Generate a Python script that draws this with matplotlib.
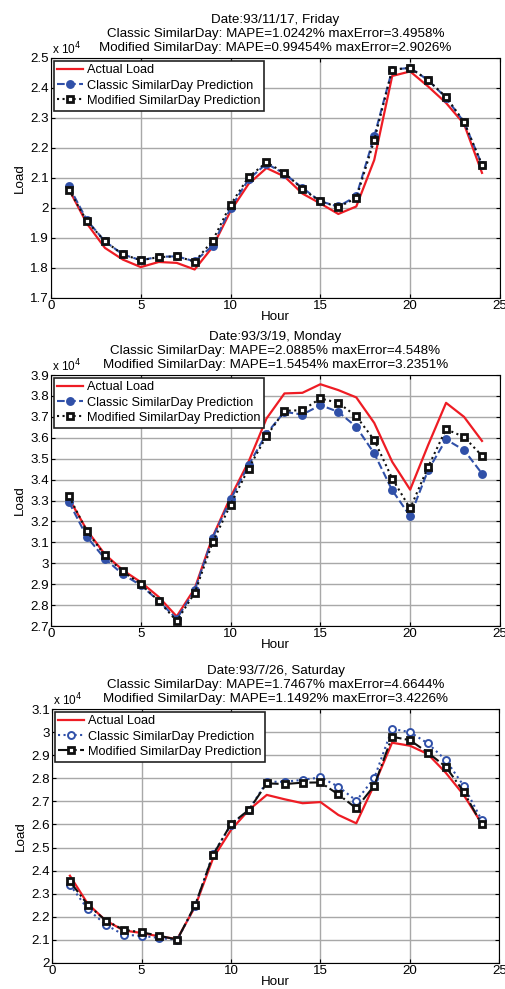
import numpy as np
import matplotlib
matplotlib.use('Agg')
import matplotlib.pyplot as plt
from matplotlib.ticker import FuncFormatter, MultipleLocator

plt.rcParams['font.family'] = ['Liberation Sans', 'DejaVu Sans']

hours = np.arange(1, 25)

# Panel 1 - 93/11/17, Friday (load in x10^4)
actual1 = [2.062, 1.948, 1.867, 1.828, 1.803, 1.820, 1.817, 1.795, 1.870, 1.990, 2.080, 2.133,
           2.105, 2.048, 2.015, 1.980, 2.005, 2.160, 2.440, 2.455, 2.405, 2.350, 2.280, 2.117]
classic1 = [2.072, 1.959, 1.889, 1.845, 1.826, 1.837, 1.839, 1.822, 1.874, 2.000, 2.095, 2.148,
            2.114, 2.067, 2.022, 2.005, 2.039, 2.239, 2.461, 2.467, 2.426, 2.367, 2.286, 2.144]
modified1 = [2.061, 1.956, 1.889, 1.845, 1.826, 1.836, 1.839, 1.821, 1.891, 2.011, 2.103, 2.152,
             2.117, 2.063, 2.022, 2.003, 2.033, 2.226, 2.461, 2.467, 2.426, 2.370, 2.287, 2.144]

# Panel 2 - 93/3/19, Monday
actual2 = [3.310, 3.158, 3.043, 2.967, 2.910, 2.839, 2.746, 2.879, 3.126, 3.317, 3.485, 3.692,
           3.812, 3.815, 3.856, 3.828, 3.793, 3.671, 3.485, 3.352, 3.565, 3.767, 3.700, 3.585]
classic2 = [3.293, 3.126, 3.022, 2.947, 2.895, 2.820, 2.734, 2.871, 3.123, 3.305, 3.469, 3.620,
            3.724, 3.711, 3.756, 3.724, 3.652, 3.525, 3.349, 3.225, 3.445, 3.592, 3.541, 3.429]
modified2 = [3.321, 3.153, 3.038, 2.962, 2.900, 2.820, 2.724, 2.858, 3.100, 3.281, 3.453, 3.608,
             3.729, 3.732, 3.788, 3.767, 3.703, 3.589, 3.405, 3.262, 3.461, 3.641, 3.604, 3.514]

# Panel 3 - 93/7/26, Saturday
actual3 = [2.378, 2.256, 2.184, 2.141, 2.130, 2.115, 2.104, 2.245, 2.454, 2.576, 2.663, 2.728,
           2.709, 2.692, 2.697, 2.641, 2.605, 2.771, 2.954, 2.941, 2.905, 2.824, 2.728, 2.605]
classic3 = [2.339, 2.233, 2.166, 2.122, 2.118, 2.108, 2.101, 2.248, 2.473, 2.598, 2.663, 2.785,
            2.785, 2.793, 2.804, 2.764, 2.703, 2.800, 3.014, 3.000, 2.951, 2.879, 2.768, 2.620]
modified3 = [2.353, 2.252, 2.184, 2.144, 2.133, 2.118, 2.101, 2.252, 2.468, 2.602, 2.663, 2.778,
             2.775, 2.781, 2.782, 2.730, 2.670, 2.768, 2.980, 2.965, 2.911, 2.850, 2.742, 2.602]

titles = ["Date:93/11/17, Friday\nClassic SimilarDay: MAPE=1.0242% maxError=3.4958%\n"
          "Modified SimilarDay: MAPE=0.99454% maxError=2.9026%",
          "Date:93/3/19, Monday\nClassic SimilarDay: MAPE=2.0885% maxError=4.548%\n"
          "Modified SimilarDay: MAPE=1.5454% maxError=3.2351%",
          "Date:93/7/26, Saturday\nClassic SimilarDay: MAPE=1.7467% maxError=4.6644%\n"
          "Modified SimilarDay: MAPE=1.1492% maxError=3.4226%"]
ylims = [(1.7, 2.5), (2.7, 3.9), (2.0, 3.1)]

RED = '#ee1c24'
BLUE = '#3050a8'

fig = plt.figure(figsize=(5.05, 9.89), dpi=100)
rects = [[0.101, 0.6987, 0.889, 0.2427],
         [0.101, 0.367, 0.889, 0.2538],
         [0.103, 0.0263, 0.886, 0.2568]]

data = [(actual1, classic1, modified1), (actual2, classic2, modified2), (actual3, classic3, modified3)]
styles = [('--', 'o', BLUE, ':', 's'), ('--', 'o', BLUE, ':', 's'), (':', 'o', 'white', '-.', 's')]

fmt = FuncFormatter(lambda v, p: '%g' % round(v, 2))
FS = 9.6

for i in range(3):
    ax = fig.add_axes(rects[i])
    act, cla, mod = data[i]
    cls, cmk, cfc, mls, mmk = styles[i]
    ax.plot(hours, act, color=RED, lw=1.6, label='Actual Load')
    ax.plot(hours, cla, color=BLUE, ls=cls, lw=1.5, marker=cmk, ms=5,
            mfc=cfc, mec=BLUE, mew=1.4, label='Classic SimilarDay Prediction')
    ax.plot(hours, mod, color='#111111', ls=mls, lw=1.5, marker=mmk, ms=5,
            mfc='white', mec='#111111', mew=2.0, label='Modified SimilarDay Prediction')
    ax.set_xlim(0, 25)
    ax.set_ylim(*ylims[i])
    ax.xaxis.set_major_locator(MultipleLocator(5))
    ax.yaxis.set_major_locator(MultipleLocator(0.1))
    ax.yaxis.set_major_formatter(fmt)
    ax.grid(True, color='#a8a8a8', lw=1.0, ls='-')
    ax.set_axisbelow(True)
    ax.tick_params(direction='in', top=True, right=True, labelsize=FS, length=3, pad=1.5)
    for s in ax.spines.values():
        s.set_linewidth(0.8)
    ax.set_xlabel('Hour', fontsize=FS, labelpad=-1)
    ax.set_ylabel('Load', fontsize=FS, labelpad=3)
    ax.set_title(titles[i], fontsize=FS, linespacing=1.2, pad=5)
    ax.text(0.002, 1.004, r'x 10$^4$', transform=ax.transAxes, fontsize=8.5, va='bottom', ha='left')
    leg = ax.legend(loc='upper left', fontsize=9.2, fancybox=False, framealpha=1,
                    edgecolor='#222222', borderpad=0.3, labelspacing=0.25, handlelength=2.0,
                    handletextpad=0.3, borderaxespad=0.2)
    leg.get_frame().set_linewidth(1.2)

fig.savefig('out.png', dpi=100)
